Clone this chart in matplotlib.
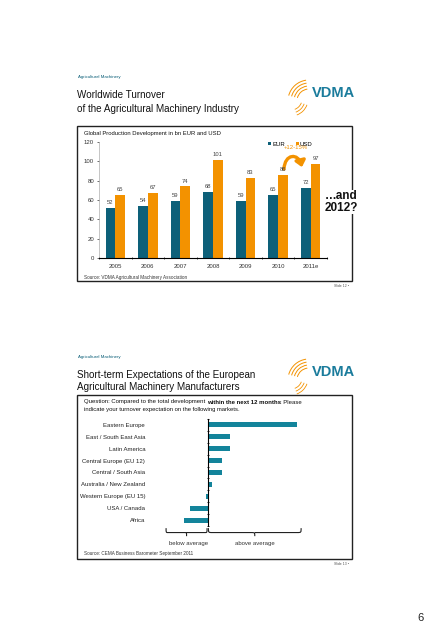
import numpy as np
import matplotlib
matplotlib.use("Agg")
from matplotlib import pyplot as plt
from matplotlib.transforms import Affine2D, blended_transform_factory
from matplotlib.patches import Rectangle, Arc, FancyArrowPatch
from matplotlib.path import Path
from matplotlib.patches import PathPatch

plt.rcParams['font.family'] = ['Liberation Sans', 'DejaVu Sans']

# chart 1: global production (bn)
years = ['2005', '2006', '2007', '2008', '2009', '2010', '2011e']
eur = [52, 54, 59, 68, 59, 65, 72]
usd = [65, 67, 74, 101, 83, 86, 97]

# chart 2: turnover expectation next 12 months (balance)
markets = ['Eastern Europe', 'East / South East Asia', 'Latin America',
           'Central Europe (EU 12)', 'Central / South Asia',
           'Australia / New Zealand', 'Western Europe (EU 15)',
           'USA / Canada', 'Africa']
expect = [38, 9.5, 9.5, 6, 6, 1.7, -0.7, -7.5, -10]

TEAL = '#0d6079'
ORANGE = '#f39200'
BAR2 = '#13849b'
LOGO_T = '#1b7c9c'

W, H = 430, 640
fig = plt.figure(figsize=(W / 100, H / 100), dpi=100)
fig.patch.set_facecolor('white')
# pixel coordinates, origin top-left
PX = Affine2D().scale(1 / W, -1 / H).translate(0, 1) + fig.transFigure


def add_ax(x0, y0, x1, y1):
    return fig.add_axes([x0 / W, 1 - y1 / H, (x1 - x0) / W, (y1 - y0) / H])


def txt(x, y, s, **kw):
    kw.setdefault('va', 'center')
    kw.setdefault('color', '#111111')
    return fig.text(x, y, s, transform=PX, **kw)


def logo(x, y):
    # orange swoosh arcs + VDMA lettering
    for r in [12, 15, 18, 21]:
        fig.add_artist(Arc((x + 19, y + 13), 2 * r, 2 * r, theta1=195, theta2=262,
                           transform=PX, color=ORANGE, lw=0.7))
    for r in [11, 14, 17]:
        fig.add_artist(Arc((x + 1, y + 11), 2 * r, 2 * r, theta1=20, theta2=70,
                           transform=PX, color=ORANGE, lw=0.6))
    txt(x + 22, y + 5, 'VDMA', fontsize=10.5, fontweight='bold', color=LOGO_T)


def box(x0, y0, x1, y1):
    fig.add_artist(Rectangle((x0, y0), x1 - x0, y1 - y0, transform=PX,
                             fill=False, ec='#222222', lw=1.0))


# ---------------- slide 12 ----------------
txt(78, 77, 'Agricultural Machinery', fontsize=3.2, color=TEAL)
txt(77, 95, 'Worldwide Turnover', fontsize=7.1)
txt(77, 109, 'of the Agricultural Machinery Industry', fontsize=7.1)
logo(290, 88)
box(77, 126, 352, 281)
txt(84, 134, 'Global Production Development in bn EUR and USD', fontsize=4.2)

ax1 = add_ax(99, 142, 327, 258)
x = np.arange(len(years))
w = 0.3
ax1.bar(x - w / 2, eur, w, color=TEAL, label='EUR')
ax1.bar(x + w / 2, usd, w, color=ORANGE, label='USD')
for xi, a, b in zip(x, eur, usd):
    ax1.text(xi - w / 2, a + 3, str(a), ha='center', va='bottom', fontsize=4.2, color='#444444')
    ax1.text(xi + w / 2, b + 3, str(b), ha='center', va='bottom', fontsize=4.2, color='#444444')
ax1.set_xlim(-0.5, len(years) - 0.5)
ax1.set_ylim(0, 120)
ax1.set_yticks(range(0, 121, 20))
ax1.set_xticks(x)
ax1.set_xticklabels(years)
ax1.set_xticks(np.arange(-0.5, len(years), 1), minor=True)
ax1.tick_params(axis='x', which='major', length=0, labelsize=4.3, pad=4, colors='#333333')
ax1.tick_params(axis='x', which='minor', length=1.5, direction='inout', width=0.5)
ax1.tick_params(axis='y', length=1.5, width=0.5, labelsize=4.3, pad=2, colors='#333333')
for s in ['top', 'right']:
    ax1.spines[s].set_visible(False)
ax1.spines['left'].set_linewidth(0.4)
ax1.spines['left'].set_color('#999999')
ax1.spines['bottom'].set_linewidth(0.8)
ax1.set_facecolor('none')
ax1.legend(loc='upper right', bbox_to_anchor=(0.95, 1.03), ncol=2, frameon=False,
           fontsize=4.3, handlelength=0.5, handleheight=0.5, handletextpad=0.2,
           columnspacing=1.8, borderpad=0)
ax1.text(5.55, 114, '+12-15%', color=ORANGE, fontsize=4.3, ha='center', va='center')
# curved arrow from 2010 to 2011e
arc = Path([(5.18, 92), (5.2, 108), (5.62, 109), (5.73, 94)],
           [Path.MOVETO, Path.CURVE4, Path.CURVE4, Path.CURVE4])
ax1.add_patch(FancyArrowPatch(path=arc, arrowstyle='-|>,head_length=3.5,head_width=3',
                              color=ORANGE, lw=2.4, mutation_scale=1))
txt(341, 202, '\u2026and\n2012?', fontsize=8.5, fontweight='bold', ha='center',
    linespacing=0.95, bbox=dict(fc='white', ec='none', pad=0.5), zorder=5)
txt(84, 277, 'Source: VDMA Agricultural Machinery Association', fontsize=3.3, color='#333333')
txt(349, 286, 'Slide 12 \u2022', fontsize=2.5, color='#555555', ha='right')

# ---------------- slide 13 ----------------
txt(78, 357, 'Agricultural Machinery', fontsize=3.2, color=TEAL)
txt(77, 375, 'Short-term Expectations of the European', fontsize=7.1)
txt(77, 387, 'Agricultural Machinery Manufacturers', fontsize=7.1)
logo(290, 367)
box(77, 395, 352, 559)

# question line with a bold run, laid out piece by piece
renderer = fig.canvas.get_renderer()
xq = 84
for part, wt, gap in [('Question: Compared to the total development', 'normal', 1.4),
                      ('within the next 12 months', 'bold', -0.4),
                      (': Please', 'normal', 0)]:
    t = txt(xq, 402, part, fontsize=4.3, fontweight=wt)
    bb = t.get_window_extent(renderer)
    xq += bb.width + gap
txt(84, 409, 'indicate your turnover expectation on the following markets.', fontsize=4.2)

ax2 = add_ax(160, 419, 310, 526)
y = np.arange(len(markets))
ax2.barh(y, expect, 0.42, color=BAR2)
ax2.set_xlim(-20.4, 43.7)
ax2.set_ylim(len(markets) - 0.5, -0.5)
ax2.spines['left'].set_position(('data', 0))
ax2.spines['left'].set_linewidth(0.8)
for s in ['top', 'right', 'bottom']:
    ax2.spines[s].set_visible(False)
ax2.set_xticks([])
ax2.set_yticks(y)
ax2.set_yticklabels(markets)
ax2.set_yticks(np.arange(-0.5, len(markets), 1), minor=True)
ax2.tick_params(axis='y', which='major', length=0, pad=45, labelsize=4.3, colors='#222222')
ax2.tick_params(axis='y', which='minor', length=1.5, direction='inout', width=0.6)
ax2.set_facecolor('none')


def brace(ax, x0, x1, ytop, depth):
    # curly brace in (data x, axes y) coords
    tr = blended_transform_factory(ax.transData, ax.transAxes)
    xm = (x0 + x1) / 2
    yl = ytop - depth * 0.55
    yb = ytop - depth
    e = (x1 - x0) * 0.04
    verts = [(x0, ytop), (x0, yl), (x0, yl), (x0 + e, yl),
             (xm - e, yl), (xm, yl), (xm, yl), (xm, yb),
             (xm, yl), (xm, yl), (xm + e, yl),
             (x1 - e, yl), (x1, yl), (x1, yl), (x1, ytop)]
    codes = [Path.MOVETO, Path.CURVE4, Path.CURVE4, Path.CURVE4,
             Path.LINETO, Path.CURVE4, Path.CURVE4, Path.CURVE4,
             Path.MOVETO, Path.CURVE4, Path.CURVE4,
             Path.LINETO, Path.CURVE4, Path.CURVE4, Path.CURVE4]
    ax.add_patch(PathPatch(Path(verts, codes), transform=tr, fill=False,
                           lw=0.8, ec='#222222', clip_on=False))


brace(ax2, -17.8, -0.3, -0.02, 0.075)
brace(ax2, 0.3, 39.9, -0.02, 0.075)
txt(189, 543, 'below average', fontsize=4.3, ha='center', color='#333333')
txt(255, 543, 'above average', fontsize=4.3, ha='center', color='#333333')
txt(84, 553, 'Source: CEMA Business Barometer September 2011', fontsize=3.3, color='#333333')
txt(349, 564, 'Slide 13 \u2022', fontsize=2.5, color='#555555', ha='right')

txt(421, 618, '6', fontsize=8, ha='center', color='#222222')

fig.savefig('out.png', dpi=100)
